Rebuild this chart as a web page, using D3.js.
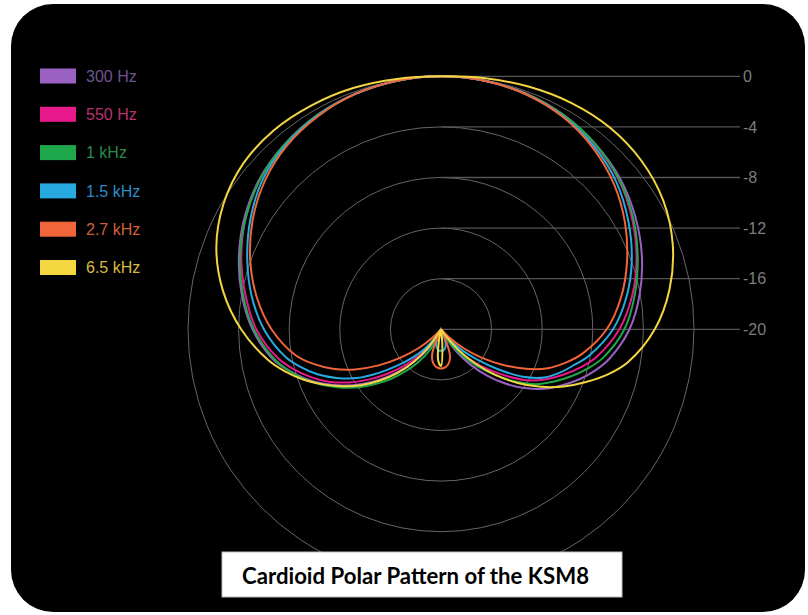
<!DOCTYPE html>
<html><head><meta charset="utf-8">
<script src="https://cdn.jsdelivr.net/npm/d3@7"></script>
<style>html,body{margin:0;padding:0;background:#fff;}svg{display:block;}</style>
</head><body>
<svg id="chart" width="808" height="615"></svg>
<script>
// ---- data ----
const angles = [0,10,20,30,40,50,60,70,80,90,100,105,110,115,120,125,130,135,140,145,150,155,160,165,170,175,180,
  185,190,195,200,205,210,215,220,225,230,235,240,245,250,255,260,270,280,290,300,310,320,330,340,350];
const seriesNames = ["300 Hz","550 Hz","1 kHz","1.5 kHz","2.7 kHz","6.5 kHz"];
const seriesColors = ["#9a61c2","#e8198b","#1fa84b","#28aae1","#f1653a","#f4d640"];
const labelColors = ["#6f5390","#b8336f","#2b8c47","#2a8dc9","#d0603b","#d7bb42"];
const db300 = [0,-0.05,-0.2,-0.5,-0.95,-1.5,-2.25,-3.1,-4.05,-5.1,-6.5,-7.4,-8.4,-9.5,-10.6,-11.9,-13.3,-14.8,-16.3,-17.8,-19.2,-20.5,-22,-25,-25,-25,-25,
  -25,-25,-25,-25,-20.5,-19,-17.8,-16.6,-15.3,-13.9,-12.5,-11.1,-9.8,-8.6,-7.5,-6.5,-5.1,-4.0,-3.0,-2.1,-1.35,-0.85,-0.45,-0.2,-0.05];
const db550 = [0,-0.05,-0.2,-0.5,-1.0,-1.65,-2.55,-3.55,-4.65,-5.9,-7.5,-8.5,-9.6,-10.7,-11.9,-13.5,-15.0,-16.4,-17.7,-18.9,-20.2,-22,-25,-25,-25,-25,-25,
  -25,-25,-25,-25,-21,-19.8,-18.6,-17.3,-16.0,-14.6,-13.1,-11.6,-10.2,-9.0,-7.9,-6.9,-5.4,-4.3,-3.2,-2.2,-1.4,-0.85,-0.45,-0.2,-0.05];
const db1k = [0,-0.05,-0.2,-0.5,-0.95,-1.6,-2.45,-3.45,-4.45,-5.5,-7.0,-8.0,-9.1,-10.2,-11.3,-12.8,-14.4,-15.8,-17.1,-18.3,-19.3,-20.3,-21.5,-25,-25,-25,-25,
  -25,-25,-21.5,-20,-18.9,-17.8,-16.8,-15.7,-14.5,-13.3,-12.0,-10.8,-9.6,-8.5,-7.5,-6.6,-5.2,-4.1,-3.1,-2.2,-1.4,-0.85,-0.45,-0.2,-0.05];
const db1k5 = [0,-0.05,-0.25,-0.6,-1.15,-1.9,-2.9,-3.95,-5.1,-6.4,-8.1,-9.1,-10.0,-11.0,-12.5,-14.5,-16.3,-17.7,-19.0,-20.5,-22,-25,-19.0,-18.6,-18.4,-18.3,-18.3,
  -18.3,-18.4,-18.6,-19.0,-25,-21,-19.2,-18.0,-16.9,-15.6,-14.0,-12.3,-10.9,-9.6,-8.5,-7.5,-6.0,-4.8,-3.7,-2.6,-1.6,-0.95,-0.5,-0.2,-0.05];
const db2k7 = [0,-0.05,-0.25,-0.65,-1.3,-2.15,-3.2,-4.35,-5.55,-6.9,-8.7,-9.8,-11.0,-12.6,-14.4,-16.1,-17.7,-19.2,-21,-25,-25,-19.5,-18.0,-17.4,-17.1,-16.95,-16.9,
  -16.95,-17.1,-17.4,-18.0,-19.5,-25,-25,-21,-19.2,-17.7,-16.1,-14.3,-12.5,-10.9,-9.5,-8.3,-6.6,-5.2,-3.95,-2.8,-1.8,-1.05,-0.55,-0.2,-0.05];
const db6k5 = [0,0.15,0.4,0.65,0.8,0.7,0.3,-0.5,-1.65,-3.1,-5.0,-6.3,-7.8,-9.3,-10.9,-12.6,-14.4,-16.2,-17.9,-19.5,-21,-25,-25,-25,-21,-18.8,-17.1,
  -17.5,-19,-25,-25,-25,-20,-18.2,-16.6,-15.1,-13.7,-12.3,-11.0,-9.7,-8.4,-7.2,-6.1,-4.2,-2.5,-1.1,-0.15,0.4,0.55,0.45,0.3,0.1];
const seriesValues = [db300, db550, db1k, db1k5, db2k7, db6k5];
const tickValues = [0,-4,-8,-12,-16,-20];
const tickLabels = ["0","-4","-8","-12","-16","-20"];
const ringValues = [-16,-12,-8,-4,0];
const title = "Cardioid Polar Pattern of the KSM8";

// ---- layout ----
const svg = d3.select("#chart");
const cx = 441, cy = 329.3, R = 253;
const rScale = d3.scaleLinear().domain([-20, 0]).range([0, R]);
const rad = v => rScale(Math.max(v, -20));

svg.append("rect").attr("x", 11).attr("y", 4).attr("width", 794).attr("height", 608)
  .attr("rx", 42).attr("ry", 42).attr("fill", "#000");

const g = svg.append("g").attr("transform", `translate(${cx},${cy})`);

// rings
g.selectAll("circle.ring").data(ringValues).join("circle")
  .attr("class", "ring").attr("r", d => rScale(d))
  .attr("fill", "none").attr("stroke", "#666").attr("stroke-width", 1);

// tick lines and labels
g.selectAll("line.tick").data(tickValues).join("line")
  .attr("x1", 0).attr("x2", 740 - cx)
  .attr("y1", d => -rScale(d)).attr("y2", d => -rScale(d))
  .attr("stroke", "#555").attr("stroke-width", 1.3);
g.selectAll("text.tick").data(tickValues).join("text")
  .attr("x", 743 - cx).attr("y", d => -rScale(d))
  .attr("dy", "0.35em")
  .attr("font-family", "Liberation Sans, Arial, sans-serif").attr("font-size", 16)
  .attr("fill", "#7c7c7c")
  .text((d, i) => tickLabels[i]);

// curves
const line = d3.lineRadial()
  .angle(d => d.a * Math.PI / 180)
  .radius(d => rad(d.v))
  .curve(d3.curveCatmullRomClosed.alpha(0.5));
seriesValues.forEach((vals, i) => {
  const pts = angles.map((a, j) => ({a, v: vals[j]}));
  g.append("path").datum(pts).attr("d", line)
    .attr("fill", "none").attr("stroke", seriesColors[i]).attr("stroke-width", 2);
});

// legend
const lg = svg.append("g");
seriesNames.forEach((n, i) => {
  const y = 76 + i * 38.3;
  lg.append("rect").attr("x", 40).attr("y", y - 7.5).attr("width", 36).attr("height", 15).attr("fill", seriesColors[i]);
  lg.append("text").attr("x", 86).attr("y", y).attr("dy", "0.36em")
    .attr("font-family", "Liberation Sans, Arial, sans-serif").attr("font-size", 16)
    .attr("fill", labelColors[i]).text(n);
});

// title box
svg.append("rect").attr("x", 222).attr("y", 552).attr("width", 400).attr("height", 45)
  .attr("fill", "#fff").attr("stroke", "#bbb").attr("stroke-width", 1);
svg.append("text").attr("x", 242).attr("y", 584)
  .attr("font-family", "Lato, Open Sans, sans-serif").attr("font-weight", "bold").attr("font-size", 22)
  .attr("textLength", 347).attr("lengthAdjust", "spacingAndGlyphs")
  .attr("fill", "#000").text(title);
</script>
</body></html>
